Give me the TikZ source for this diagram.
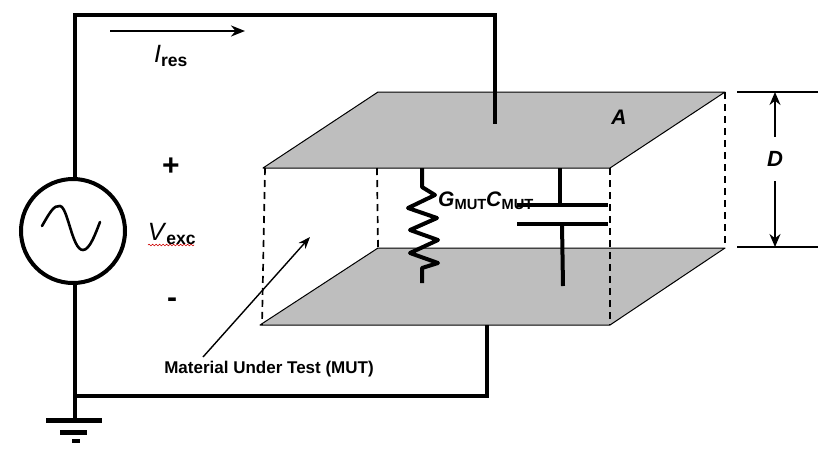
\documentclass[tikz,border=0pt]{standalone}
\usepackage{fontspec}
\setmainfont{Liberation Sans}
\usetikzlibrary{positioning, arrows.meta, decorations.pathmorphing}

\begin{document}
\begin{tikzpicture}[
      x=1pt, y=-1pt,
      wire/.style={draw, line width=4pt},
      thinwire/.style={draw, line width=1.2pt},
      plate/.style={draw, fill=plategray, line width=1pt, line join=round},
      guide/.style={draw, line width=1.7pt, dash pattern=on 7pt off 5pt},
      label/.style={font=\bfseries, inner sep=0pt},
      src/.style={circle, draw, line width=4pt, minimum size=104pt, inner sep=0pt},
      >={Stealth}
    ]
    \definecolor{plategray}{RGB}{190,190,190}
    \useasboundingbox (0,0) rectangle (835,456);

    % Plates
    \coordinate (tl) at (263,168);
    \coordinate (tb) at (378,92);
    \coordinate (tr) at (725,92);
    \coordinate (tf) at (610,168);
    \coordinate (bl) at (260,325);
    \coordinate (bb) at (378,248);
    \coordinate (br) at (725,248);
    \coordinate (bf) at (610,325);
    \path[plate] (bl) -- (bb) -- (br) -- (bf) -- cycle;
    \path[plate] (tl) -- (tb) -- (tr) -- (tf) -- cycle;

    % Hidden edges
    \path[guide] (265,168) -- (262,325);
    \path[guide] (377,168) -- (bb);
    \path[guide] (tf) -- (bf);
    \path[guide] (tr) -- (br);

    % Source and ground
    \node[src] (source) at (73,231) {};
    \coordinate (corner1) at (75,15);
    \coordinate (corner2) at (495,15);
    \coordinate (topend) at (495,124);
    \coordinate (join) at (75,396);
    \coordinate (corner3) at (487,396);
    \coordinate (botend) at (487,325);
    \coordinate (gnd) at (75,420);
    \path[wire] (source.north -| corner1) -- (corner1) -- (corner2) -- (topend);
    \path[wire] (source.south -| corner1) -- (gnd);
    \path[wire] (join) -- (corner3) -- (botend);
    \path[wire, line width=5pt] (46,420) -- (102,420);
    \path[wire, line width=5pt] (60,432) -- (87,432);
    \path[wire] (72,441) -- (80,441);
    \path[draw, line width=2.6pt, line cap=round]
      (42,226) .. controls (50,212) and (54,205) .. (60,206)
      .. controls (68,207) and (72,250) .. (83,250)
      .. controls (90,250) and (96,232) .. (100,222);

    % Resistor
    \coordinate (rtop) at (422,168);
    \coordinate (rbot) at (422,283);
    \path[draw, line width=4pt, line join=round]
      (rtop) -- (422,187) -- (435,195) -- (408,208) -- (437,218) -- (410,230)
      -- (438,240) -- (410,253) -- (438,263) -- (422,268) -- (rbot);

    % Capacitor
    \coordinate (ctop) at (560,168);
    \coordinate (cbot) at (563,286);
    \path[wire] (ctop) -- (560,205);
    \path[wire] (517,205) -- (608,205);
    \path[wire] (517,224) -- (608,224);
    \path[wire] (562,224) -- (cbot);

    % Dimension
    \coordinate (dim1) at (737,92);
    \coordinate (dim2) at (818,92);
    \coordinate (dim3) at (737,247);
    \coordinate (dim4) at (818,247);
    \path[thinwire] (dim1) -- (dim2);
    \path[thinwire] (dim3) -- (dim4);
    \path[draw, line width=1.6pt, {Stealth[length=13pt,width=11pt]}-{Stealth[length=13pt,width=11pt]}]
      (775,92) -- (775,247);

    % Current arrow
    \coordinate (ires1) at (110,31);
    \coordinate (ires2) at (245,31);
    \path[draw, line width=2.4pt, -{Stealth[length=14pt,width=11pt]}] (ires1) -- (ires2);

    % MUT arrow
    \coordinate (mut1) at (203,357);
    \coordinate (mut2) at (310,237);
    \path[draw, line width=1.4pt, -{Stealth[length=12pt,width=9pt]}] (mut1) -- (mut2);

    % Labels
    \node[inner sep=0pt, font=\fontsize{25}{25}\selectfont] (ires) at (171,56)
      {\textit{I}\textsubscript{\bfseries res}};
    \node[label, font=\fontsize{30}{30}\bfseries\selectfont] (plus) at (171,167) {+};
    \node[label, font=\fontsize{30}{30}\bfseries\selectfont] (minus) at (172,303) {-};
    \node[inner sep=0pt, font=\fontsize{25}{25}\selectfont] (vexc) at (172,234)
      {\textit{V}\textsubscript{\bfseries exc}};
    \path[draw=red!80!black, line width=0.6pt, decorate,
      decoration={snake, amplitude=0.8pt, segment length=3.5pt}] (148,245) -- (194,245);
    \node[label, font=\fontsize{21}{21}\bfseries\itshape\selectfont] (areaA) at (619,117) {A};
    \node[label, font=\fontsize{22}{22}\bfseries\itshape\selectfont, fill=white, inner xsep=3pt, inner ysep=14pt] (depth) at (775,159) {D};
    \node[label, anchor=west, font=\fontsize{21}{21}\bfseries\selectfont] (gmut) at (438,201)
      {\textit{G}\textsubscript{MUT}};
    \node[label, anchor=west, font=\fontsize{21}{21}\bfseries\selectfont] (cmut) at (486,201)
      {\textit{C}\textsubscript{MUT}};
    \node[label, font=\fontsize{17}{17}\bfseries\selectfont] (mat) at (269,369)
      {Material Under Test (MUT)};
  \end{tikzpicture}
\end{document}
